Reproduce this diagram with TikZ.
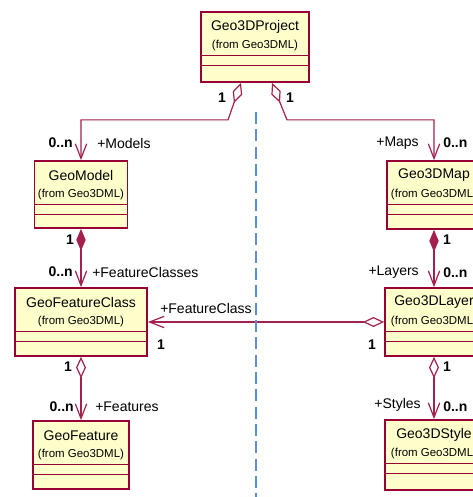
\documentclass[tikz,border=0pt]{standalone}
\usepackage{fontspec}
\setmainfont{Liberation Sans}
\usetikzlibrary{arrows.meta,calc}

\definecolor{umlborder}{HTML}{990033}
\definecolor{umlfill}{HTML}{FFFFCC}
\definecolor{umlline}{HTML}{A3204F}
\definecolor{swimlane}{HTML}{5B8FD3}

\tikzset{
  classbox/.style={draw=umlborder, fill=umlfill, line width=1.3pt, rectangle, inner sep=0pt},
  compline/.style={draw=umlborder, line width=0.9pt},
  classname/.style={inner sep=0pt, font=\fontsize{10.5pt}{12pt}\selectfont},
  classpkg/.style={inner sep=0pt, font=\fontsize{8.6pt}{10pt}\selectfont},
  rolelabel/.style={inner sep=0pt, font=\fontsize{10.5pt}{12pt}\selectfont},
  multlabel/.style={inner sep=0pt, font=\fontsize{10.5pt}{12pt}\selectfont\bfseries},
  assoc/.style={draw=umlline, line width=0.9pt},
  navarrow/.tip={Straight Barb[length=11pt, width=8.5pt, line width=0.9pt]},
  compdiamond/.tip={Diamond[length=16.5pt, width=7pt, fill=umlline]},
  aggdiamond/.tip={Diamond[length=16pt, width=7.5pt, fill=white, line width=0.9pt]},
  lane/.style={draw=swimlane, line width=1.6pt, dash pattern=on 9pt off 4pt}
}

% #1 name, #2 centre x, #3 top y, #4 width, #5 height, #6 class name
\newcommand\umlclass[6]{%
  \node[classbox, minimum width={#4*0.75pt}, minimum height={#5*0.75pt}] (#1) at (#2,{#3+#5/2}) {};
  \node[classname] (#1-name) at (#2,{#3+14.5}) {#6};
  \node[classpkg] (#1-pkg) at (#2,{#3+33.5}) {(from Geo3DML)};
  \draw[compline] ([yshift={-44*0.75pt}]#1.north west) -- ([yshift={-44*0.75pt}]#1.north east);
  \draw[compline] ([yshift={-54*0.75pt}]#1.north west) -- ([yshift={-54*0.75pt}]#1.north east);
}

\begin{document}
\begin{tikzpicture}[x=0.75pt, y=-0.75pt]
  \path[use as bounding box] (0,0) rectangle (473,497);
  \fill[white] (0,0) rectangle (473,497);
  \clip (0,0) rectangle (473,497);

  % classes
  \umlclass{proj}{255}{12}{108}{70}{Geo3DProject}
  \umlclass{model}{81}{161}{93}{67}{GeoModel}
  \umlclass{fclass}{81}{288}{132}{68}{GeoFeatureClass}
  \umlclass{feature}{81}{421}{96}{68}{GeoFeature}
  \umlclass{map}{434}{161}{94}{68}{Geo3DMap}
  \umlclass{layer}{434}{288}{98}{68}{Geo3DLayer}
  \umlclass{style}{434}{420}{98}{70}{Geo3DStyle}

  % associations
  \draw[assoc, aggdiamond-navarrow] ([xshift={-14*0.75pt}]proj.south) -- ++(-13,37) -| (model.north);
  \draw[assoc, aggdiamond-navarrow] ([xshift={17*0.75pt}]proj.south) -- ++(15,37) -| (map.north);
  \draw[assoc, compdiamond-navarrow] (model.south) -- (fclass.north);
  \draw[assoc, aggdiamond-navarrow] (fclass.south) -- (feature.north);
  \draw[assoc, compdiamond-navarrow] (map.south) -- (layer.north);
  \draw[assoc, aggdiamond-navarrow] (layer.south) -- (style.north);
  \draw[assoc, aggdiamond-navarrow] (layer.west) -- (fclass.east);

  % roles and multiplicities
  \node[multlabel] (m-pm) at (222,98) {1};
  \node[multlabel] (m-pp) at (290,98) {1};
  \node[multlabel, anchor=east] (m-models) at (73,143) {0..n};
  \node[rolelabel, anchor=west] (r-models) at (97,143) {+Models};
  \node[rolelabel, anchor=east] (r-maps) at (419,143) {+Maps};
  \node[multlabel, anchor=west] (m-maps) at (443,143) {0..n};
  \node[multlabel] (m-mc) at (70,240) {1};
  \node[multlabel] (m-ml) at (447,240) {1};
  \node[multlabel, anchor=east] (m-fcs) at (73,272) {0..n};
  \node[rolelabel, anchor=west] (r-fcs) at (92,272) {+FeatureClasses};
  \node[rolelabel, anchor=east] (r-layers) at (419,272) {+Layers};
  \node[multlabel, anchor=west] (m-layers) at (443,273) {0..n};
  \node[rolelabel, anchor=west] (r-fc) at (160,308) {+FeatureClass};
  \node[multlabel] (m-fc) at (161,345) {1};
  \node[multlabel] (m-lf) at (372,345) {1};
  \node[multlabel] (m-ff) at (68,367) {1};
  \node[multlabel] (m-ls) at (447,367) {1};
  \node[multlabel, anchor=east] (m-feat) at (74,407) {0..n};
  \node[rolelabel, anchor=west] (r-feat) at (95,407) {+Features};
  \node[rolelabel, anchor=east] (r-styles) at (421,405) {+Styles};
  \node[multlabel, anchor=west] (m-styles) at (443,407) {0..n};

  % swimlane divider
  \coordinate (lane-top) at (256,112);
  \coordinate (lane-bot) at (256,500);
  \draw[lane] (lane-top) -- (lane-bot);
\end{tikzpicture}
\end{document}
